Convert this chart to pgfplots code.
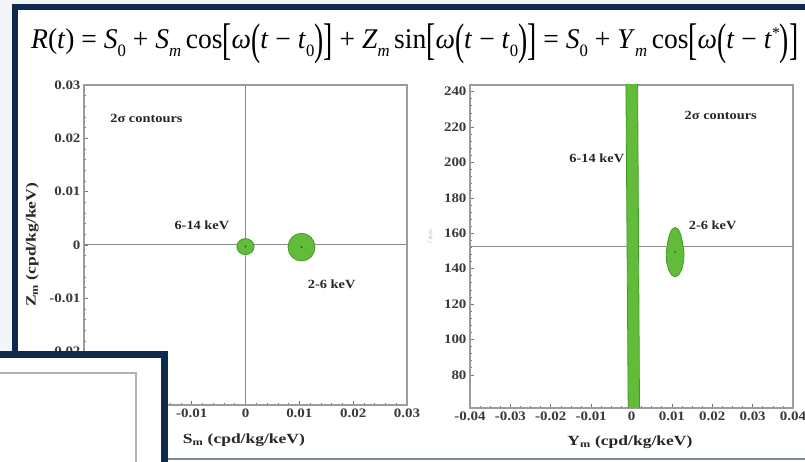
\documentclass[border=0pt]{standalone}
\usepackage{fontspec}
\setmainfont{Liberation Serif}
\newfontfamily\tickfont[FakeStretch=1.15]{Liberation Serif}
\newfontfamily\labfont[FakeStretch=1.25]{Liberation Serif}
\usepackage{graphicx}
\usepackage{pgfplots}
\pgfplotsset{compat=1.18}

\definecolor{navy}{HTML}{0E2B4E}
\definecolor{outerbg}{HTML}{F2F5F9}
\definecolor{axisgray}{HTML}{9C9C9C}
\definecolor{tickgray}{HTML}{3A3A3A}
\definecolor{cfill}{HTML}{62BC3A}
\definecolor{cedge}{HTML}{3E9B2A}

\newcommand\vi[1]{\textit{#1}}
\newcommand\bd[1]{\raisebox{-0.2em}{\scalebox{1}[1.55]{#1}}}
\newcommand\eqsub[1]{\raisebox{-0.28em}{\fontsize{17}{17}\selectfont #1}}
\newcommand\eqsup[1]{\raisebox{0.38em}{\fontsize{16}{16}\selectfont #1}}

\tikzset{
  note/.style={font=\tickfont\bfseries\fontsize{12.5}{13}\selectfont, text=black!85},
  contour/.style={fill=cfill, draw=cedge, line width=0.8pt, line join=round},
}
\pgfplotsset{
  dama/.style={
    scale only axis, anchor=south west,
    axis line style={draw=axisgray, line width=1.1pt},
    tick align=inside, xtick pos=left, ytick pos=left,
    major tick length=4pt, minor tick length=2.2pt,
    tick style={draw=tickgray!70, line width=0.6pt},
    tick label style={font=\tickfont\bfseries\fontsize{13}{14}\selectfont, text=tickgray},
    label style={font=\labfont\bfseries\fontsize{14}{16}\selectfont, text=black!85},
    scaled ticks=false,
  },
}

\begin{document}
\begin{tikzpicture}[x=1pt,y=1pt]
\useasboundingbox (0,0) rectangle (805,462);
\clip (0,0) rectangle (805,462);
\fill[outerbg] (0,0) rectangle (805,462);
\fill[white] (15,0) rectangle (805,455);
\draw[navy, line width=6.5] (15,-10) -- (15,455) -- (830,455);
\draw[navy!55, line width=2] (160,2.5) -- (830,2.5);

% formula
\node[anchor=base west, inner sep=0] at (31,413) {\resizebox{767pt}{25pt}{\fontsize{28}{30}\selectfont
\vi{R}(\vi{t}) = \vi{S}\eqsub{0} + \vi{S}\eqsub{\vi{m}}\,cos\bd{[}\vi{ω}\bd{(}\vi{t} − \vi{t}\eqsub{0}\bd{)}\bd{]} + \vi{Z}\eqsub{\vi{m}}\,sin\bd{[}\vi{ω}\bd{(}\vi{t} − \vi{t}\eqsub{0}\bd{)}\bd{]} = \vi{S}\eqsub{0} + \vi{Y}\eqsub{\vi{m}}\,cos\bd{[}\vi{ω}\bd{(}\vi{t} − \vi{t}\eqsup{*}\bd{)}\bd{]}}};

% S_m versus Z_m
\begin{axis}[dama,
  at={(84pt,57pt)}, width=323pt, height=320pt,
  xmin=-0.03, xmax=0.03, ymin=-0.03, ymax=0.03,
  xtick={-0.03,-0.02,-0.01,0,0.01,0.02,0.03},
  xticklabels={,-0.02,-0.01,0,0.01,0.02,0.03},
  ytick={-0.03,-0.02,-0.01,0,0.01,0.02,0.03},
  yticklabels={,-0.02,-0.01,0,0.01,0.02,0.03},
  minor x tick num=4, minor y tick num=4,
  xlabel={S\textsubscript{m} (cpd/kg/keV)},
  ylabel={Z\textsubscript{m} (cpd/kg/keV)},
  xlabel style={at={(axis description cs:0.495,-0.109)}, anchor=center},
  ylabel style={at={(axis description cs:-0.16,0.5)}, anchor=center},
]
\addplot[draw=axisgray!90!black, line width=1pt] coordinates {(-0.03,0) (0.03,0)};
\addplot[draw=axisgray!90!black, line width=1pt] coordinates {(0,-0.03) (0,0.03)};
% 6-14 keV
\addplot[contour] coordinates {
 (0.0016,-0.0003) (0.00148,0.00027) (0.00113,0.00076) (0.00061,0.00109)
 (0,0.0012) (-0.00061,0.00109) (-0.00113,0.00076) (-0.00148,0.00027)
 (-0.0016,-0.0003) (-0.00148,-0.00087) (-0.00113,-0.00136) (-0.00061,-0.00169)
 (0,-0.0018) (0.00061,-0.00169) (0.00113,-0.00136) (0.00148,-0.00087)} -- cycle;
% 2-6 keV
\addplot[contour] coordinates {
 (0.0129,-0.0004) (0.01271,0.0006) (0.01217,0.00144) (0.01136,0.0020)
 (0.0104,0.0022) (0.00944,0.0020) (0.00863,0.00144) (0.00809,0.0006)
 (0.0079,-0.0004) (0.00809,-0.0014) (0.00863,-0.00224) (0.00944,-0.0028)
 (0.0104,-0.0030) (0.01136,-0.0028) (0.01217,-0.00224) (0.01271,-0.0014)} -- cycle;
\addplot[only marks, mark=*, mark size=0.6pt, black!80] coordinates {(0,-0.0003) (0.0104,-0.0004)};
\node[note] at (axis cs:-0.0184,0.0237) {2σ contours};
\node[note] at (axis cs:-0.0081,0.0037) {6-14 keV};
\node[note] at (axis cs:0.016,-0.0073) {2-6 keV};
\end{axis}

% Y_m versus t*
\begin{axis}[dama,
  at={(470pt,54pt)}, width=323pt, height=323pt,
  xmin=-0.04, xmax=0.04, ymin=61.25, ymax=243.75,
  xtick={-0.04,-0.03,-0.02,-0.01,0,0.01,0.02,0.03,0.04},
  xticklabels={-0.04,-0.03,-0.02,-0.01,0,0.01,0.02,0.03,0.04},
  ytick={80,100,120,140,160,180,200,220,240},
  yticklabels={80,100,120,140,160,180,200,220,240},
  minor x tick num=3, minor y tick num=4,
  xlabel={Y\textsubscript{m} (cpd/kg/keV)},
  xlabel style={at={(axis description cs:0.495,-0.105)}, anchor=center},
]
\addplot[draw=axisgray!90!black, line width=1pt] coordinates {(-0.04,152.5) (0.04,152.5)};
% 6-14 keV
\addplot[contour] coordinates {(-0.0014,250) (0.0015,250) (0.0020,55) (-0.0008,55)} -- cycle;
% 2-6 keV
\addplot[contour] coordinates {
 (0.0130,149.3) (0.01265,154.66) (0.01221,159.2) (0.01157,162.23)
 (0.0108,163.3) (0.01003,162.23) (0.00939,159.2) (0.00895,154.66)
 (0.0086,149.3) (0.00867,143.94) (0.00917,139.4) (0.00992,136.37)
 (0.0108,135.3) (0.01168,136.37) (0.01243,139.4) (0.01293,143.94)} -- cycle;
\addplot[only marks, mark=*, mark size=0.6pt, cedge!60!black] coordinates {(0.0108,149.3)};
\node[note] at (axis cs:0.0221,226.8) {2σ contours};
\node[note] at (axis cs:-0.0086,202.1) {6-14 keV};
\node[note] at (axis cs:0.0201,164.6) {2-6 keV};
\end{axis}
\node[rotate=90, font=\fontsize{4.5}{5}\selectfont, text=navy!45] at (430,225) {t\textsuperscript{*} (day)};

% overlapping panel in the lower left corner
\fill[white] (-10,-10) rectangle (164.5,107.5);
\draw[navy, line width=7] (-10,107.5) -- (164.5,107.5) -- (164.5,-10);
\draw[black!30, line width=1.5] (-10,89) -- (136,89) -- (136,-10);
\end{tikzpicture}
\end{document}
